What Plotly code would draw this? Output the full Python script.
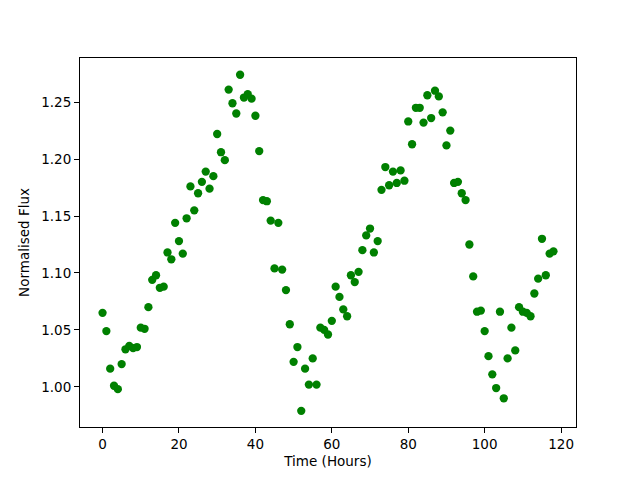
import plotly.graph_objects as go

hours = list(range(119))
flux = [
    1.065, 1.049, 1.016, 1.001, 0.998, 1.020, 1.033, 1.036, 1.034, 1.035,
    1.052, 1.051, 1.070, 1.094, 1.098, 1.087, 1.088, 1.118, 1.112, 1.144,
    1.128, 1.117, 1.148, 1.176, 1.155, 1.170, 1.180, 1.189, 1.174, 1.185,
    1.222, 1.206, 1.199, 1.261, 1.249, 1.240, 1.274, 1.254, 1.257, 1.253,
    1.238, 1.207, 1.164, 1.163, 1.146, 1.104, 1.144, 1.103, 1.085, 1.055,
    1.022, 1.035, 0.979, 1.016, 1.002, 1.025, 1.002, 1.052, 1.050, 1.046,
    1.058, 1.088, 1.079, 1.068, 1.062, 1.098, 1.092, 1.101, 1.120, 1.133,
    1.139, 1.118, 1.128, 1.173, 1.193, 1.177, 1.189, 1.179, 1.190, 1.181,
    1.233, 1.213, 1.245, 1.245, 1.232, 1.256, 1.236, 1.260, 1.255, 1.241,
    1.212, 1.225, 1.179, 1.180, 1.170, 1.164, 1.125, 1.097, 1.066, 1.067,
    1.049, 1.027, 1.011, 0.999, 1.066, 0.990, 1.025, 1.052, 1.032, 1.070,
    1.066, 1.065, 1.062, 1.082, 1.095, 1.130, 1.098, 1.117, 1.119,
]
x_ticks = [0, 20, 40, 60, 80, 100, 120]
y_ticks = [1.00, 1.05, 1.10, 1.15, 1.20, 1.25]

fig = go.Figure(go.Scatter(
    x=hours, y=flux, mode="markers",
    marker=dict(color="#008000", size=8.3, line=dict(width=0)),
))

axis_common = dict(
    showgrid=False, zeroline=False, showline=True, linecolor="black",
    linewidth=1, mirror=True, ticks="outside", ticklen=5, tickcolor="black",
    tickfont=dict(family="DejaVu Sans", size=13.5, color="black"),
)
fig.update_layout(
    width=632, height=472,
    margin=dict(l=72, r=64, t=50, b=53, autoexpand=False),
    paper_bgcolor="white", plot_bgcolor="white",
    showlegend=False,
    font=dict(family="DejaVu Sans", size=13.5, color="black"),
    xaxis=dict(range=[-5.9, 123.9], tickvals=x_ticks,
               title=dict(text="Time (Hours)", font=dict(size=13.5), standoff=5),
               **axis_common),
    yaxis=dict(range=[0.9648, 1.2887], tickvals=y_ticks, tickformat=".2f",
               title=dict(text="Normalised Flux", font=dict(size=13.5), standoff=8),
               **axis_common),
)
fig.write_html("out.html")
